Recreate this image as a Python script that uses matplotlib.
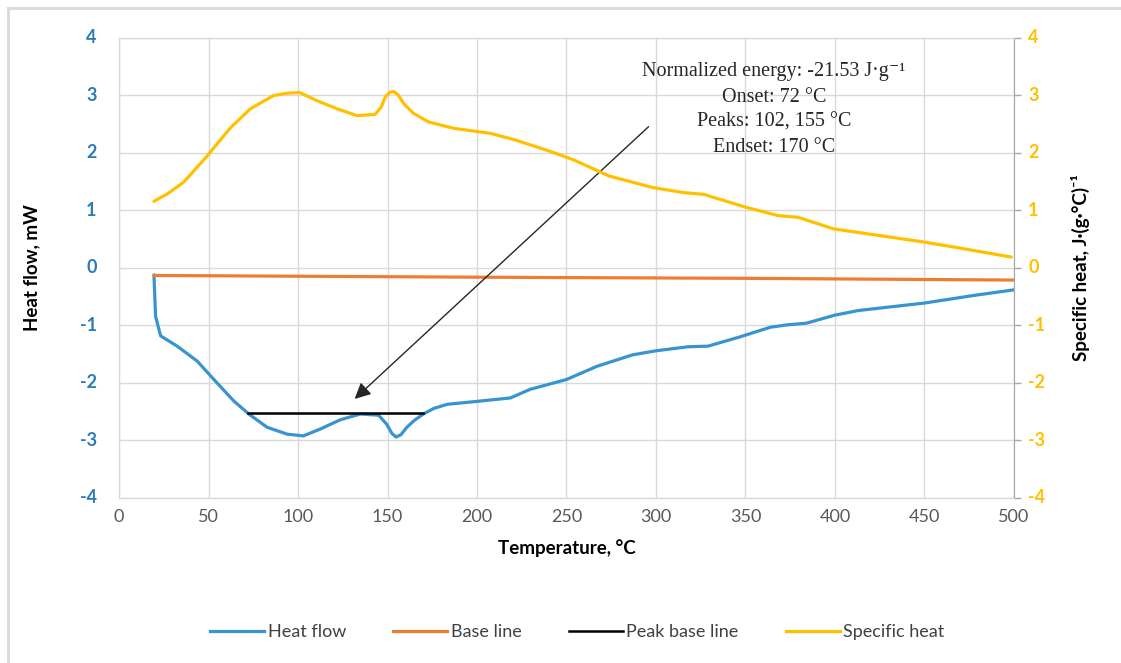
import matplotlib
matplotlib.use("Agg")
import matplotlib.pyplot as plt
from matplotlib.lines import Line2D

# -----------------------------
# DATA
# -----------------------------
hf_temp = [19.5, 20.4, 23.2, 32.5, 43.7, 53, 64, 72.5, 82.7, 93.9, 103, 112.5,
           123.6, 134.8, 145, 149.6, 152.5, 154.8, 157.5, 160.8, 165, 170,
           176, 183.5, 200, 218.7, 229.7, 250, 267, 287, 300, 318, 329, 346.7,
           364, 373, 384, 400, 413, 430, 450, 477, 500]
hf_val = [-0.12, -0.84, -1.18, -1.36, -1.62, -1.94, -2.31, -2.54, -2.77, -2.89,
          -2.92, -2.80, -2.64, -2.54, -2.56, -2.72, -2.88, -2.94, -2.90, -2.77,
          -2.65, -2.54, -2.44, -2.37, -2.32, -2.26, -2.11, -1.94, -1.71, -1.51,
          -1.44, -1.37, -1.36, -1.20, -1.03, -0.99, -0.96, -0.82, -0.74, -0.68,
          -0.61, -0.48, -0.38]

base_temp = [19.5, 200, 350, 500]
base_val = [-0.13, -0.16, -0.18, -0.21]

peak_temp = [72, 170]
peak_val = [-2.53, -2.53]

cp_temp = [19.5, 27, 36, 49, 62, 73.4, 86.4, 94, 101, 110.6, 121.7, 132.9,
           143, 146.5, 148.7, 151, 153.3, 156, 159, 164.5, 172.9, 186.8,
           207.7, 221, 240.7, 254, 273.8, 298, 315.6, 326.7, 350.9, 368.5,
           379.5, 399.3, 416.9, 450, 465.4, 498.5]
cp_val = [1.16, 1.29, 1.49, 1.94, 2.43, 2.77, 3.0, 3.04, 3.05, 2.91, 2.77, 2.65,
          2.67, 2.80, 2.97, 3.05, 3.07, 3.01, 2.86, 2.69, 2.54, 2.43, 2.34, 2.23,
          2.03, 1.88, 1.60, 1.40, 1.31, 1.28, 1.05, 0.91, 0.88, 0.68, 0.60,
          0.45, 0.37, 0.19]

y_ticks = [-4, -3, -2, -1, 0, 1, 2, 3, 4]
x_ticks = [0, 50, 100, 150, 200, 250, 300, 350, 400, 450, 500]

note_lines = ["Normalized energy: -21.53 J\u00b7g\u207b\u00b9",
              "Onset: 72 \u00b0C",
              "Peaks: 102, 155 \u00b0C",
              "Endset: 170 \u00b0C"]
arrow_tail = (297, 2.49)
arrow_head = (130.5, -2.31)

# -----------------------------
# STYLE
# -----------------------------
BLUE = "#3794CF"
ORANGE = "#ED7D31"
GOLD = "#FFC000"
GRID = "#D9D9D9"
plt.rcParams["font.family"] = ["Lato", "DejaVu Sans"]
plt.rcParams["axes.unicode_minus"] = False

fig = plt.figure(figsize=(11.21, 6.63), dpi=100)
ax = fig.add_axes([0.1062, 0.2489, 0.7983, 0.6938])
ax2 = ax.twinx()

line_kw = dict(solid_joinstyle="round", solid_capstyle="round")
ax.plot(hf_temp, hf_val, color=BLUE, lw=2.3, **line_kw)
ax.plot(base_temp, base_val, color=ORANGE, lw=2.3, **line_kw)
ax.plot(peak_temp, peak_val, color="black", lw=1.8)
ax2.plot(cp_temp, cp_val, color=GOLD, lw=2.3, **line_kw)

for a in (ax, ax2):
    a.set_xlim(0, 500)
    a.set_ylim(-4, 4)
    a.set_yticks(y_ticks)
ax.set_xticks(x_ticks)
ax.grid(True, color=GRID, lw=1)
ax.set_axisbelow(True)

ax.tick_params(axis="y", length=0, labelleft=False)
ax2.tick_params(axis="y", length=5, width=1, color="#A6A6A6", labelright=False)
ax.tick_params(axis="x", length=0, pad=8, labelcolor="#595959", labelsize=13)

# bold y tick labels on both sides
for v in y_ticks:
    ax.text(-0.025, v, str(v), transform=ax.get_yaxis_transform(),
            ha="right", va="center", fontsize=13, fontweight="bold",
            color="#2B7BB9")
    ax2.text(1.016, v, str(v), transform=ax2.get_yaxis_transform(),
             ha="left", va="center", fontsize=13, fontweight="bold",
             color=GOLD)

for a in (ax, ax2):
    for s in a.spines.values():
        s.set_color(GRID)
ax2.spines["right"].set_color("#A6A6A6")
ax.spines["bottom"].set_color("#BFBFBF")

ax.set_xlabel("Temperature, \u00b0C", fontsize=13.5, fontweight="bold", labelpad=10)
ax.set_ylabel("Heat flow, mW", fontsize=13.5, fontweight="bold", labelpad=57)
ax2.set_ylabel("Specific heat, J\u00b7(g\u00b7\u00b0C)\u207b\u00b9", fontsize=13.5,
               fontweight="bold", labelpad=36)

# annotation
ax.annotate("", xy=arrow_head, xytext=arrow_tail,
            arrowprops=dict(arrowstyle="-|>", color="#262626", lw=1.0,
                            mutation_scale=24))
ax.text(366, 2.75, "\n".join(note_lines), ha="center", va="center",
        family=["Liberation Serif", "DejaVu Serif"], fontsize=14.5,
        linespacing=1.45, color="#262626")

# legend
handles = [Line2D([], [], color=BLUE, lw=2.3),
           Line2D([], [], color=ORANGE, lw=2.3),
           Line2D([], [], color="black", lw=1.8),
           Line2D([], [], color=GOLD, lw=2.3)]
labels = ["Heat flow", "Base line", "Peak base line", "Specific heat"]
fig.legend(handles, labels, loc="center", bbox_to_anchor=(0.515, 0.047),
           ncol=4, frameon=False, fontsize=13, handlelength=3.0,
           handletextpad=0.2, columnspacing=2.6, labelcolor="#404040")

# outer chart frame (top and left edges visible)
fig.add_artist(Line2D([0.0075, 0.0075], [0, 0.988], transform=fig.transFigure,
                      color="#D9D9D9", lw=2))
fig.add_artist(Line2D([0.0075, 1], [0.988, 0.988], transform=fig.transFigure,
                      color="#D9D9D9", lw=2))

fig.savefig("out.png", dpi=100)
